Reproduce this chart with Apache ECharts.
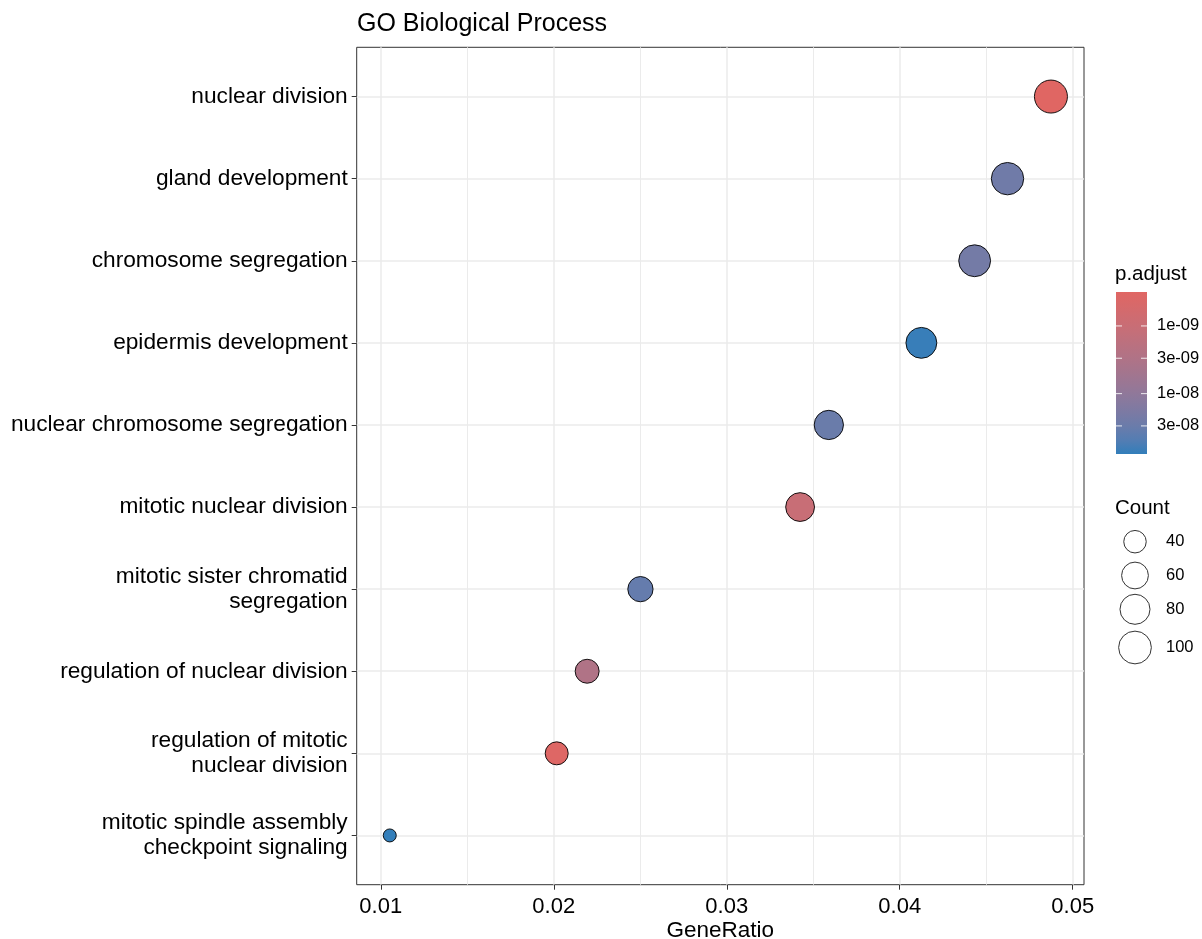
<!DOCTYPE html>
<html><head><meta charset="utf-8">
<script src="https://cdn.jsdelivr.net/npm/echarts@6/dist/echarts.min.js"></script>
<style>html,body{margin:0;padding:0;background:#fff}#c{width:1202px;height:939px}</style>
</head><body><div id="c"></div>
<script>
// ---- data ----
const categories = [
  'nuclear division',
  'gland development',
  'chromosome segregation',
  'epidermis development',
  'nuclear chromosome segregation',
  'mitotic nuclear division',
  'mitotic sister chromatid\nsegregation',
  'regulation of nuclear division',
  'regulation of mitotic\nnuclear division',
  'mitotic spindle assembly\ncheckpoint signaling'
];
const geneRatio = [0.04874, 0.04623, 0.04433, 0.04125, 0.03590, 0.03424, 0.02501, 0.02193, 0.02017, 0.01052];
const counts    = [102, 97, 93, 86, 75, 72, 52, 46, 42, 22];
const pAdjust   = [3.15e-10, 2.6e-8, 2.3e-8, 7.2e-8, 3.0e-8, 1.0e-9, 3.4e-8, 3.0e-9, 3.5e-10, 7.8e-8];
const xTicks = [0.01, 0.02, 0.03, 0.04, 0.05];
const xMinorTicks = [0.015, 0.025, 0.035, 0.045];
const pLegendTicks = [1e-9, 3e-9, 1e-8, 3e-8];
const pLegendLabels = ['1e-09', '3e-09', '1e-08', '3e-08'];
const countLegend = [40, 60, 80, 100];

// ---- styles ----
const FONT = "'Liberation Sans', Arial, sans-serif";
const LOW_COLOR = '#E06663', HIGH_COLOR = '#327EBA';
const SIZE_RANGE = [13, 33];

// Lab interpolation (like ggplot's scales)
function toLin(c){c/=255;return c<=0.04045?c/12.92:Math.pow((c+0.055)/1.055,2.4);}
function fromLin(c){c=c<=0.0031308?12.92*c:1.055*Math.pow(c,1/2.4)-0.055;return Math.round(Math.max(0,Math.min(1,c))*255);}
function hexToLab(h){
  const r=toLin(parseInt(h.substr(1,2),16)),g=toLin(parseInt(h.substr(3,2),16)),b=toLin(parseInt(h.substr(5,2),16));
  let X=(0.4124564*r+0.3575761*g+0.1804375*b)/0.95047,Y=0.2126729*r+0.7151522*g+0.0721750*b,Z=(0.0193339*r+0.1191920*g+0.9503041*b)/1.08883;
  const f=t=>t>0.008856?Math.cbrt(t):7.787*t+16/116;
  const fx=f(X),fy=f(Y),fz=f(Z);
  return [116*fy-16,500*(fx-fy),200*(fy-fz)];
}
function labToHex(L,a,b){
  const fy=(L+16)/116,fx=fy+a/500,fz=fy-b/200;
  const fi=t=>t>0.206893?t*t*t:(t-16/116)/7.787;
  const X=fi(fx)*0.95047,Y=fi(fy),Z=fi(fz)*1.08883;
  const r=3.2404542*X-1.5371385*Y-0.4985314*Z,g=-0.9692660*X+1.8760108*Y+0.0415560*Z,bb=0.0556434*X-0.2040259*Y+1.0572252*Z;
  return '#'+[r,g,bb].map(v=>fromLin(v).toString(16).padStart(2,'0')).join('');
}
const labLo=hexToLab(LOW_COLOR),labHi=hexToLab(HIGH_COLOR);
const NSTOP=12;
const stops=[];
for(let i=0;i<=NSTOP;i++){const t=i/NSTOP;stops.push(labToHex(labLo[0]+(labHi[0]-labLo[0])*t,labLo[1]+(labHi[1]-labLo[1])*t,labLo[2]+(labHi[2]-labLo[2])*t));}

const n = categories.length;
const gMin = Math.min(...geneRatio), gMax = Math.max(...geneRatio);
const xMin = gMin - 0.05*(gMax-gMin), xMax = gMax + 0.05*(gMax-gMin);
const cMin = Math.min(...counts), cMax = Math.max(...counts);
const sizeFn = c => SIZE_RANGE[0] + Math.sqrt(Math.max(0,(c-cMin)/(cMax-cMin)))*(SIZE_RANGE[1]-SIZE_RANGE[0]);
const logP = pAdjust.map(p=>Math.log10(p));
const lpMin = Math.min(...logP), lpMax = Math.max(...logP);
const yPos = categories.map((c,i)=>n-i);

const data = geneRatio.map((g,i)=>[g, n-i, counts[i], logP[i]]);

// legend graphics
const BAR = {x:1116, y:292, w:31, h:162};
const graphics = [];
graphics.push({type:'text', left:1115, top:264, style:{text:'p.adjust', font:`20.5px ${FONT}`, fill:'#000'}});
graphics.push({type:'rect', shape:{x:BAR.x,y:BAR.y,width:BAR.w,height:BAR.h}, style:{fill:new echarts.graphic.LinearGradient(0,0,0,1,stops.map((c,i)=>({offset:i/NSTOP,color:c})))} });
pLegendTicks.forEach((p,i)=>{
  const yy = BAR.y + (Math.log10(p)-lpMin)/(lpMax-lpMin)*BAR.h;
  graphics.push({type:'line', shape:{x1:BAR.x,y1:yy,x2:BAR.x+6,y2:yy}, style:{stroke:'rgba(255,255,255,0.85)',lineWidth:1}});
  graphics.push({type:'line', shape:{x1:BAR.x+BAR.w-6,y1:yy,x2:BAR.x+BAR.w,y2:yy}, style:{stroke:'rgba(255,255,255,0.85)',lineWidth:1}});
  graphics.push({type:'text', x:1157, y:yy, style:{text:pLegendLabels[i], font:`16.5px ${FONT}`, fill:'#000', verticalAlign:'middle'}});
});
graphics.push({type:'text', left:1115, top:498, style:{text:'Count', font:`20.5px ${FONT}`, fill:'#000'}});
const keyY = [541.7, 575.5, 609.3, 647.5];
countLegend.forEach((c,i)=>{
  graphics.push({type:'circle', shape:{cx:1135, cy:keyY[i], r:sizeFn(c)/2}, style:{fill:'#fff', stroke:'#333', lineWidth:1}});
  graphics.push({type:'text', x:1166, y:keyY[i], style:{text:String(c), font:`16.5px ${FONT}`, fill:'#000', verticalAlign:'middle'}});
});

const chart = echarts.init(document.getElementById('c'), null, {renderer:'canvas'});
chart.setOption({
  animation:false,
  backgroundColor:'#fff',
  title:{text:'GO Biological Process', left:352, top:7, textStyle:{fontFamily:FONT, fontSize:25, fontWeight:'normal', color:'#000'}},
  grid:{left:356.7, right:1202-1084, top:47.3, bottom:939-884.7, show:true, borderColor:'#333', borderWidth:1, backgroundColor:'transparent', containLabel:false, outerBoundsMode:'none'},
  xAxis:[{
    type:'value', min:xMin, max:xMax, position:'bottom',
    axisLine:{show:false},
    axisTick:{show:true, length:5, lineStyle:{color:'#333', width:1}, customValues:xTicks},
    axisLabel:{customValues:xTicks, formatter:v=>v.toFixed(2), fontFamily:FONT, fontSize:22, color:'#000', margin:11},
    splitLine:{show:true, lineStyle:{color:'#EBEBEB', width:1.5}},
    name:'GeneRatio', nameLocation:'middle', nameGap:35, nameMoveOverlap:false, nameTextStyle:{fontFamily:FONT, fontSize:22.5, color:'#000'}
  },{
    type:'value', min:xMin, max:xMax, position:'top',
    axisLine:{show:false}, axisTick:{show:false, customValues:xMinorTicks}, axisLabel:{show:false, customValues:xMinorTicks},
    splitLine:{show:true, lineStyle:{color:'#EBEBEB', width:1}}
  }],
  yAxis:{
    type:'value', min:0.4, max:n+0.6,
    axisLine:{show:false},
    axisTick:{show:true, length:5, lineStyle:{color:'#333', width:1}, customValues:yPos},
    axisLabel:{customValues:yPos, formatter:v=>categories[n-Math.round(v)], fontFamily:FONT, fontSize:22.7, lineHeight:24.5, color:'#000', margin:9, align:'right'},
    splitLine:{show:true, lineStyle:{color:'#EBEBEB', width:1.5}}
  },
  visualMap:{show:false, type:'continuous', dimension:3, min:lpMin, max:lpMax, inRange:{color:stops}, seriesIndex:0},
  series:[{
    type:'scatter', xAxisIndex:0, data:data,
    symbolSize:d=>sizeFn(d[2]),
    itemStyle:{borderColor:'#000', borderWidth:0.9, opacity:1},
    emphasis:{disabled:true}, z:5
  }],
  graphic:graphics
});
</script></body></html>
